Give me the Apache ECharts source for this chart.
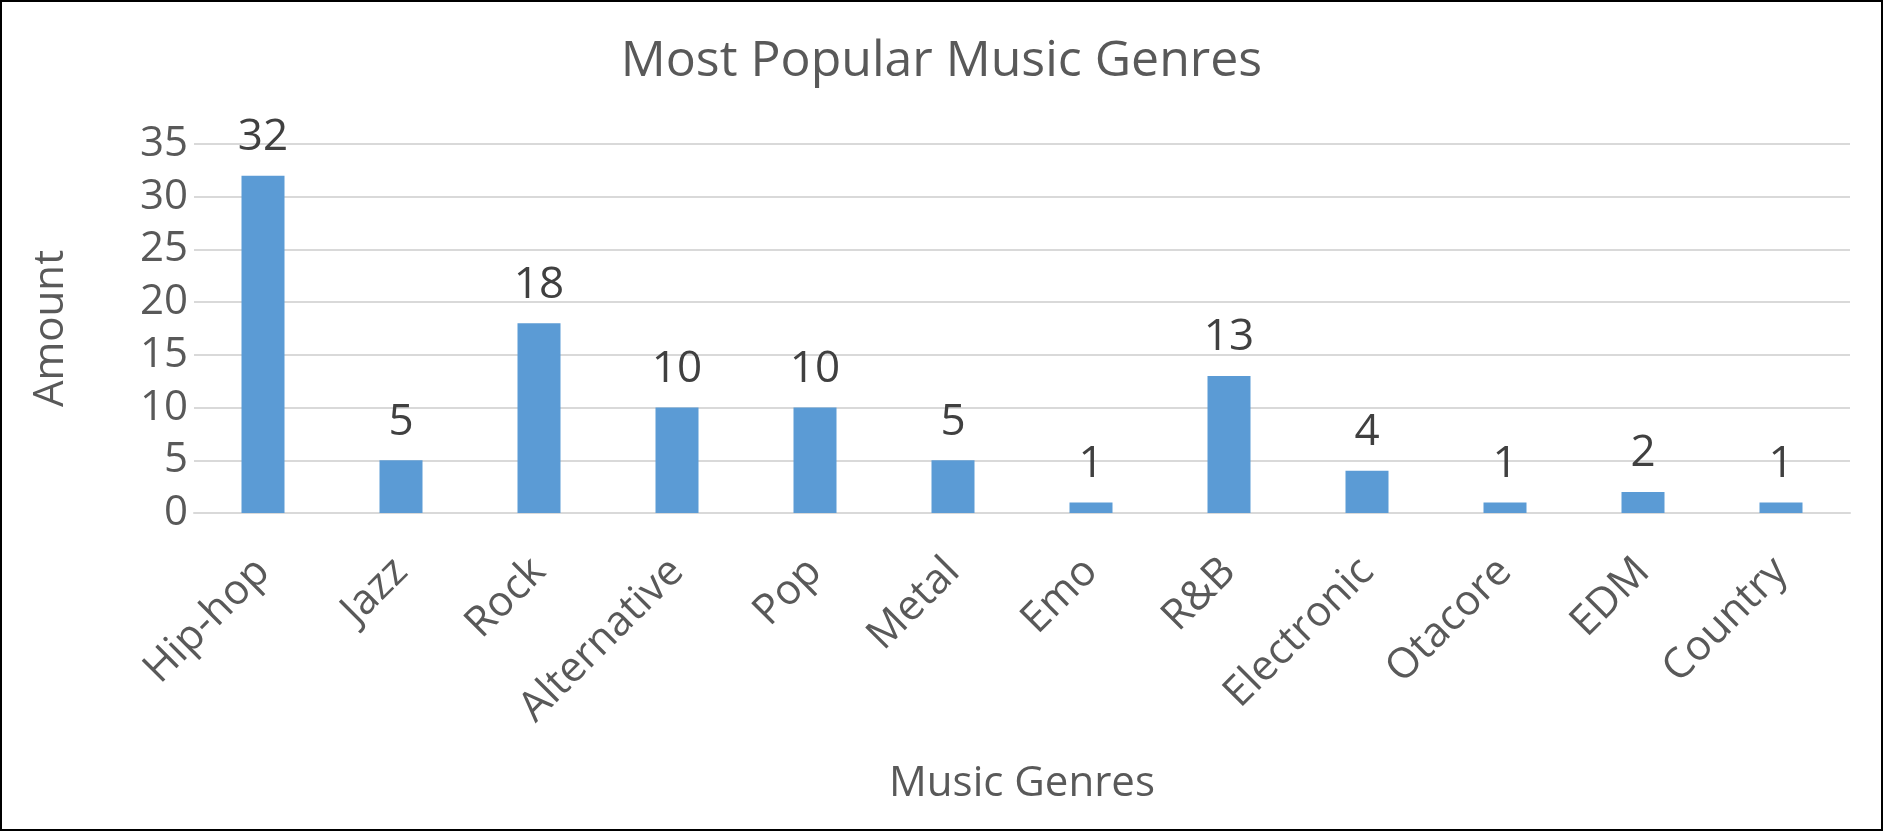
<!DOCTYPE html>
<html><head><meta charset="utf-8">
<script src="https://cdn.jsdelivr.net/npm/echarts@6/dist/echarts.min.js"></script>
<style>
html,body{margin:0;padding:0;background:#fff;}
#c{width:1883px;height:831px;box-sizing:border-box;border:2px solid #000;}
</style></head>
<body><div id="c"></div>
<script>
const categories = ['Hip-hop','Jazz','Rock','Alternative','Pop','Metal','Emo','R&B','Electronic','Otacore','EDM','Country'];
const amounts = [32,5,18,10,10,5,1,13,4,1,2,1];
const yTicks = [0,5,10,15,20,25,30,35];

const font = '"Open Sans", "Noto Sans", sans-serif';
const chart = echarts.init(document.getElementById('c'), null, {renderer:'canvas'});
chart.setOption({
  animation:false,
  textStyle:{fontFamily:font},
  title:{
    text:'Most Popular Music Genres', left:'center', top:30,
    textStyle:{fontFamily:font, fontSize:50, fontWeight:'normal', color:'#595959'}
  },
  grid:{left:192, right:31, top:142, bottom:316, containLabel:false},
  xAxis:{
    type:'category', data:categories,
    name:'Music Genres', nameLocation:'middle', nameGap:250,
    nameTextStyle:{fontFamily:font, fontSize:42, color:'#595959'},
    axisLine:{lineStyle:{color:'#D9D9D9', width:2}},
    axisTick:{show:false},
    axisLabel:{rotate:45, fontFamily:font, fontSize:42, color:'#595959', margin:52, interval:0}
  },
  yAxis:{
    type:'value', min:yTicks[0], max:yTicks[yTicks.length-1], interval:5,
    name:'Amount', nameLocation:'middle', nameGap:122, nameRotate:90,
    nameTextStyle:{fontFamily:font, fontSize:42, color:'#595959'},
    axisLine:{show:false}, axisTick:{show:false},
    splitLine:{lineStyle:{color:'#D9D9D9', width:2}},
    axisLabel:{fontFamily:font, fontSize:42, color:'#595959', margin:6}
  },
  series:[{
    type:'bar', data:amounts, barWidth:43,
    itemStyle:{color:'#5B9BD5'},
    label:{show:true, position:'top', distance:16, fontFamily:font, fontSize:44, color:'#404040'}
  }]
});
</script></body></html>
